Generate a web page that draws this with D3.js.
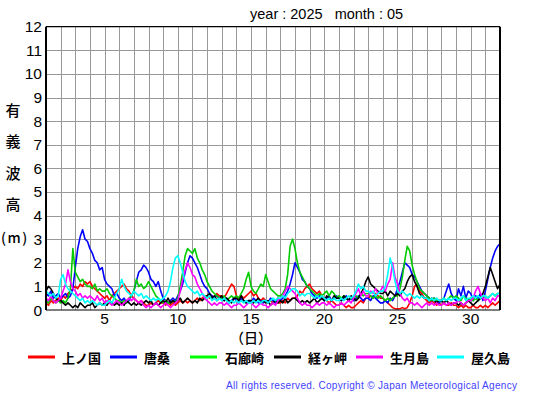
<!DOCTYPE html>
<html lang="ja">
<head>
<meta charset="UTF-8" />
<title>有義波高 2025-05</title>
<script src="https://d3js.org/d3.v7.min.js"></script>
<style>
    html, body { margin: 0; padding: 0; background: #fff; overflow: hidden; }
    svg { display: block; }
    .num { font-family: "Liberation Sans", Arial, sans-serif; }
    .jp { font-family: "Noto Sans CJK JP", sans-serif; }
</style>
</head>
<body>
<svg width="555" height="395"></svg>
<script>
    // wave height (m), 6 readings a day (every 4 h), May 1 .. June 1 00h
    const kaminokuni = [
        0.3,0.2,0.4,0.3,0.4,0.5, 0.4,0.6,0.5,0.7,0.8,0.9, 1.0,0.9,1.1,1.0,1.2,1.1, 1.2,1.0,0.9,0.8,0.7,0.6,
        0.5,0.6,0.4,0.6,0.7,0.8, 0.9,1.0,1.1,0.9,0.8,0.6, 0.5,0.4,0.3,0.4,0.3,0.2, 0.2,0.3,0.2,0.3,0.4,0.3,
        0.3,0.2,0.3,0.2,0.3,0.2, 0.3,0.4,0.3,0.4,0.3,0.4, 0.3,0.4,0.5,0.4,0.5,0.6, 0.6,0.5,0.6,0.5,0.7,0.6,
        0.6,0.5,0.7,0.9,1.1,1.0, 0.6,0.5,0.6,0.5,0.6,0.7, 0.8,0.6,0.7,0.5,0.4,0.5, 0.4,0.3,0.4,0.3,0.4,0.3,
        0.3,0.4,0.3,0.5,0.4,0.5, 0.5,0.6,0.8,0.7,0.9,1.0, 1.1,0.9,0.8,0.7,0.8,0.6, 0.5,0.4,0.3,0.4,0.3,0.2,
        0.2,0.3,0.2,0.1,0.2,0.1, 0.1,0.2,0.3,0.4,0.3,0.5, 0.5,0.6,0.5,0.7,0.6,0.5, 0.5,0.4,0.3,0.2,0.1,0.05,
        0.05,0.05,0.1,0.05,0.1,0.3, 0.6,1.0,1.1,0.8,0.7,0.5, 0.4,0.3,0.4,0.3,0.2,0.3, 0.2,0.3,0.2,0.2,0.3,0.2,
        0.2,0.1,0.2,0.1,0.2,0.1, 0.1,0.2,0.1,0.1,0.2,0.1, 0.2,0.1,0.2,0.3,0.2,0.3, 0.4
    ];
    const karakuwa = [
        0.7,0.6,0.8,0.5,0.6,0.7, 0.5,0.6,0.7,0.5,0.6,0.9, 1.8,2.6,3.1,3.4,3.0,2.9, 2.6,2.4,2.1,2.0,1.7,1.8,
        1.3,1.1,1.0,0.9,0.6,0.7, 0.5,0.4,0.5,0.3,0.4,0.6, 0.8,1.2,1.6,1.7,1.9,1.8, 1.6,1.3,1.2,1.0,1.2,0.8,
        0.5,0.4,0.3,0.4,0.5,0.4, 0.6,0.8,1.1,1.6,2.0,2.3, 2.2,2.0,1.8,1.5,1.2,1.0, 0.9,0.7,0.6,0.5,0.6,0.5,
        0.5,0.4,0.5,0.3,0.4,0.5, 0.4,0.3,0.5,0.4,0.3,0.4, 0.3,0.5,0.4,0.3,0.4,0.3, 0.4,0.3,0.5,0.4,0.3,0.5,
        0.4,0.5,0.6,0.8,1.1,1.5, 2.0,1.8,1.6,1.3,1.2,1.0, 0.9,0.7,0.6,0.5,0.6,0.5, 0.4,0.5,0.6,0.4,0.5,0.6,
        0.5,0.4,0.5,0.6,0.4,0.5, 0.4,0.5,0.6,0.5,0.4,0.5, 0.5,0.4,0.6,0.5,0.4,0.3, 0.3,0.4,0.3,0.5,0.4,0.6,
        0.9,1.2,1.6,2.0,1.9,1.8, 1.5,1.4,1.2,1.0,0.8,0.7, 0.6,0.5,0.4,0.5,0.4,0.3, 0.4,0.5,0.8,1.1,0.7,0.5,
        0.4,0.9,0.6,1.0,0.5,0.8, 0.7,0.4,0.6,0.5,0.7,0.4, 0.8,1.3,1.8,2.2,2.5,2.7, 2.8
    ];
    const irozaki = [
        0.4,0.3,0.5,0.4,0.3,0.4, 0.3,0.4,0.3,0.5,0.9,2.6, 1.6,1.4,1.2,1.3,1.1,1.0, 1.0,0.9,1.1,0.8,0.9,0.8,
        0.8,0.9,0.7,0.6,0.5,0.4, 0.4,0.3,0.4,0.3,0.5,0.6, 0.8,1.3,1.0,1.1,0.9,1.0, 1.2,1.0,0.8,0.6,0.5,0.4,
        0.3,0.4,0.3,0.3,0.4,0.3, 0.5,1.0,1.6,2.3,2.6,2.5, 2.4,2.6,2.2,2.0,1.7,1.5, 1.2,1.0,0.8,0.7,0.6,0.5,
        0.5,0.6,0.4,0.5,0.6,0.5, 0.6,0.5,0.7,0.9,1.3,1.6, 1.0,0.8,0.7,0.9,1.1,1.0, 1.5,1.2,0.9,0.8,0.7,0.6,
        0.6,0.7,0.9,1.5,2.7,3.0, 2.6,2.0,1.6,1.4,1.2,1.0, 0.9,0.8,0.7,0.6,0.7,0.6, 0.7,0.8,0.6,0.8,0.7,0.5,
        0.6,0.5,0.6,0.5,0.4,0.5, 0.5,0.6,0.5,0.7,0.6,0.7, 0.7,0.6,0.5,0.6,0.5,0.6, 0.5,0.4,0.5,0.4,0.5,0.6,
        0.6,0.9,1.4,2.1,2.7,2.5, 1.9,1.5,1.2,0.9,0.8,0.7, 0.6,0.5,0.4,0.5,0.4,0.4, 0.4,0.5,0.4,0.5,0.6,0.5,
        0.6,0.5,0.4,0.6,0.5,0.4, 0.5,0.4,0.5,0.4,0.5,0.6, 0.6,0.5,0.6,0.7,0.6,0.7, 0.7
    ];
    const kyogamisaki = [
        0.8,1.0,0.9,0.7,0.5,0.4, 0.4,0.3,0.2,0.3,0.2,0.1, 0.2,0.1,0.3,0.2,0.1,0.2, 0.2,0.3,0.1,0.2,0.3,0.2,
        0.3,0.2,0.4,0.3,0.2,0.3, 0.2,0.3,0.2,0.4,0.3,0.2, 0.3,0.2,0.3,0.2,0.3,0.4, 0.3,0.4,0.2,0.3,0.2,0.3,
        0.4,0.3,0.5,0.3,0.4,0.3, 0.4,0.5,0.3,0.4,0.5,0.4, 0.3,0.4,0.3,0.5,0.4,0.5, 0.6,0.7,0.5,0.6,0.4,0.5,
        0.6,0.4,0.5,0.4,0.3,0.5, 0.5,0.4,0.6,0.4,0.3,0.4, 0.4,0.3,0.4,0.5,0.3,0.4, 0.3,0.4,0.2,0.3,0.4,0.3,
        0.4,0.3,0.5,0.3,0.4,0.5, 0.5,0.4,0.3,0.4,0.3,0.4, 0.3,0.4,0.5,0.3,0.4,0.5, 0.4,0.6,0.5,0.4,0.6,0.5,
        0.5,0.4,0.6,0.5,0.4,0.6, 0.5,0.4,0.5,0.7,0.9,1.2, 1.4,1.1,1.0,0.9,0.8,0.7, 0.7,0.8,0.6,0.8,0.7,0.6,
        0.7,0.6,0.8,0.9,1.2,1.4, 1.5,1.2,1.0,0.7,0.6,0.5, 0.5,0.4,0.5,0.4,0.3,0.4, 0.4,0.3,0.4,0.3,0.2,0.3,
        0.3,0.2,0.3,0.2,0.3,0.4, 0.3,0.2,0.3,0.4,0.5,0.7, 1.0,1.4,1.8,1.5,1.2,0.9, 1.1
    ];
    const ikitsukishima = [
        0.5,0.4,0.6,0.4,0.3,0.4, 0.5,0.8,1.1,1.7,1.2,0.9, 0.8,0.6,0.7,0.5,0.6,0.5, 0.6,0.5,0.4,0.6,0.4,0.5,
        0.3,0.4,0.3,0.2,0.3,0.4, 0.3,0.2,0.3,0.4,0.5,0.4, 0.5,0.4,0.3,0.4,0.2,0.1, 0.2,0.1,0.2,0.3,0.2,0.1,
        0.2,0.3,0.2,0.1,0.2,0.3, 0.4,0.8,1.3,1.7,2.0,1.8, 1.5,1.4,1.1,0.9,0.7,0.5, 0.4,0.3,0.2,0.3,0.2,0.3,
        0.3,0.2,0.3,0.2,0.1,0.2, 0.2,0.3,0.2,0.1,0.2,0.3, 0.3,0.2,0.1,0.2,0.3,0.2, 0.2,0.1,0.2,0.3,0.2,0.4,
        0.5,0.6,0.8,1.0,0.9,0.8, 0.7,0.5,0.3,0.2,0.3,0.2, 0.2,0.1,0.2,0.3,0.2,0.3, 0.3,0.2,0.3,0.2,0.1,0.2,
        0.2,0.3,0.2,0.3,0.4,0.3, 0.5,0.7,0.9,0.6,0.8,0.6, 0.6,0.8,0.7,0.9,0.7,0.8, 1.0,0.8,1.1,1.3,2.0,1.4,
        1.1,0.7,0.5,0.4,0.5,0.3, 0.3,0.2,0.3,0.2,0.1,0.2, 0.3,0.2,0.3,0.2,0.3,0.2, 0.2,0.3,0.2,0.3,0.2,0.3,
        0.3,0.4,0.3,0.2,0.3,0.4, 0.4,0.5,0.8,1.0,0.7,0.5, 0.4,0.5,0.3,0.5,0.4,0.6, 0.6
    ];
    const yakushima = [
        0.8,0.7,0.6,0.7,0.5,0.6, 1.3,1.5,1.1,0.9,0.8,0.7, 0.6,0.5,0.4,0.5,0.3,0.4, 0.3,0.4,0.3,0.2,0.3,0.2,
        0.2,0.3,0.4,0.3,0.5,0.7, 0.9,1.3,1.0,0.8,0.7,0.6, 0.8,0.7,0.6,0.7,0.5,0.6, 0.5,0.4,0.5,0.4,0.5,0.4,
        0.5,0.6,0.8,1.2,1.8,2.2, 2.3,2.0,1.6,1.2,1.0,0.9, 0.8,0.7,0.8,0.6,0.7,0.6, 0.5,0.6,0.4,0.5,0.4,0.5,
        0.4,0.5,0.4,0.3,0.4,0.3, 0.4,0.3,0.4,0.3,0.4,0.3, 0.3,0.4,0.3,0.4,0.3,0.4, 0.4,0.3,0.4,0.5,0.4,0.5,
        0.5,0.6,0.5,0.7,0.8,0.9, 0.9,0.8,0.6,0.7,0.6,0.7, 0.7,0.6,0.5,0.6,0.5,0.6, 0.5,0.4,0.5,0.4,0.5,0.4,
        0.4,0.5,0.4,0.5,0.6,0.5, 0.6,0.8,1.1,0.9,1.0,0.8, 0.8,0.7,0.8,0.6,0.7,0.8, 0.8,1.0,1.5,2.2,1.8,1.2,
        0.8,0.7,0.8,0.7,0.6,0.7, 0.6,0.5,0.6,0.5,0.6,0.5, 0.5,0.4,0.5,0.4,0.5,0.4, 0.4,0.5,0.4,0.5,0.4,0.5,
        0.5,0.4,0.5,0.6,0.4,0.5, 0.5,0.6,0.5,0.6,0.5,0.6, 0.6,0.5,0.6,0.7,0.6,0.7, 0.7
    ];

    const stations = ["上ノ国", "唐桑", "石廊崎", "経ヶ岬", "生月島", "屋久島"];
    const colors = ["#ff0000", "#0000ff", "#00cc00", "#000000", "#ff00ff", "#00ffff"];
    const seriesList = [kaminokuni, karakuwa, irozaki, kyogamisaki, ikitsukishima, yakushima];
    const xTicks = [5, 10, 15, 20, 25, 30];
    const yTicks = d3.range(0, 13);
    const readingsPerDay = 6;

    const svg = d3.select("svg");
    const plotLeft = 46, plotRight = 500, plotTop = 26.7, plotBottom = 310;

    const x = d3.scaleLinear().domain([1, 32]).range([plotLeft, plotRight]);
    const y = d3.scaleLinear().domain([0, 12]).range([plotBottom, plotTop]);

    // title
    svg.append("text").attr("class", "num")
        .attr("x", 250).attr("y", 19)
        .attr("font-size", 14.5)
        .attr("xml:space", "preserve")
        .text("year : 2025   month : 05");

    // grid
    const grid = svg.append("g").attr("stroke", "#999").attr("stroke-width", 1);
    grid.selectAll("line.v").data(d3.range(2, 32)).join("line")
        .attr("class", "v")
        .attr("x1", d => Math.round(x(d)) + 0.5).attr("x2", d => Math.round(x(d)) + 0.5)
        .attr("y1", plotTop).attr("y2", plotBottom);
    grid.selectAll("line.h").data(d3.range(1, 12)).join("line")
        .attr("class", "h")
        .attr("x1", plotLeft).attr("x2", plotRight)
        .attr("y1", d => Math.round(y(d)) + 0.5).attr("y2", d => Math.round(y(d)) + 0.5);

    // lines
    svg.append("clipPath").attr("id", "plotClip")
        .append("rect").attr("x", plotLeft).attr("y", plotTop)
        .attr("width", plotRight - plotLeft).attr("height", plotBottom - plotTop);

    const line = d3.line()
        .x((d, i) => x(1 + i / readingsPerDay))
        .y(d => y(d));

    svg.append("g").attr("clip-path", "url(#plotClip)")
        .selectAll("path").data(seriesList).join("path")
        .attr("d", line)
        .attr("fill", "none")
        .attr("stroke", (d, i) => colors[i])
        .attr("stroke-width", 1.6)
        .attr("stroke-linejoin", "round");

    // frame
    svg.append("line").attr("x1", plotLeft).attr("x2", plotRight).attr("y1", plotTop).attr("y2", plotTop)
        .attr("stroke", "#000").attr("stroke-width", 1.2);
    svg.append("line").attr("x1", plotLeft).attr("x2", plotRight).attr("y1", plotBottom).attr("y2", plotBottom)
        .attr("stroke", "#000").attr("stroke-width", 1.2);
    svg.append("line").attr("x1", plotLeft).attr("x2", plotLeft).attr("y1", plotTop).attr("y2", plotBottom)
        .attr("stroke", "#000").attr("stroke-width", 2);
    svg.append("line").attr("x1", plotRight).attr("x2", plotRight).attr("y1", plotTop).attr("y2", plotBottom)
        .attr("stroke", "#000").attr("stroke-width", 2);

    // y tick labels
    svg.append("g").selectAll("text").data(yTicks).join("text")
        .attr("class", "num")
        .attr("x", 42).attr("y", d => y(d) + 5.5)
        .attr("text-anchor", "end")
        .attr("font-size", 15.5)
        .text(d => d);

    // x tick labels
    svg.append("g").selectAll("text").data(xTicks).join("text")
        .attr("class", "num")
        .attr("x", d => x(d)).attr("y", 324)
        .attr("text-anchor", "middle")
        .attr("font-size", 15.5)
        .text(d => d);

    // y axis title, stacked characters
    const yTitle = ["有", "義", "波", "高"];
    svg.append("g").selectAll("text").data(yTitle).join("text")
        .attr("class", "jp")
        .attr("x", 13).attr("y", (d, i) => 116 + i * 31.3)
        .attr("text-anchor", "middle")
        .attr("font-size", 15)
        .attr("font-weight", 500)
        .text(d => d);
    svg.append("text").attr("class", "jp")
        .attr("x", 1).attr("y", 243)
        .attr("font-size", 14)
        .attr("font-weight", 500)
        .attr("letter-spacing", 1.5)
        .text("(m)");

    // x axis title
    svg.append("text").attr("class", "jp")
        .attr("x", 251).attr("y", 342.5)
        .attr("text-anchor", "middle")
        .attr("font-size", 14)
        .attr("font-weight", 500)
        .text("（日）");

    // legend
    const legendX = [28, 110, 190, 274, 356, 437];
    const legend = svg.append("g").selectAll("g").data(stations).join("g")
        .attr("transform", (d, i) => `translate(${legendX[i]},357)`);
    legend.append("line")
        .attr("x1", 0).attr("x2", 27)
        .attr("stroke", (d, i) => colors[i] === "#00cc00" ? "#00ff00" : colors[i])
        .attr("stroke-width", 3);
    legend.append("text").attr("class", "jp")
        .attr("x", (d, i) => i === 2 ? 35 : 34).attr("y", 5.5)
        .attr("font-size", 13)
        .attr("font-weight", 700)
        .text(d => d);

    // credit
    svg.append("text").attr("class", "num")
        .attr("x", 226).attr("y", 388.5)
        .attr("font-size", 10)
        .attr("fill", "#3f3fff")
        .attr("textLength", 291)
        .attr("lengthAdjust", "spacing")
        .text("All rights reserved. Copyright © Japan Meteorological Agency");
</script>
</body>
</html>
